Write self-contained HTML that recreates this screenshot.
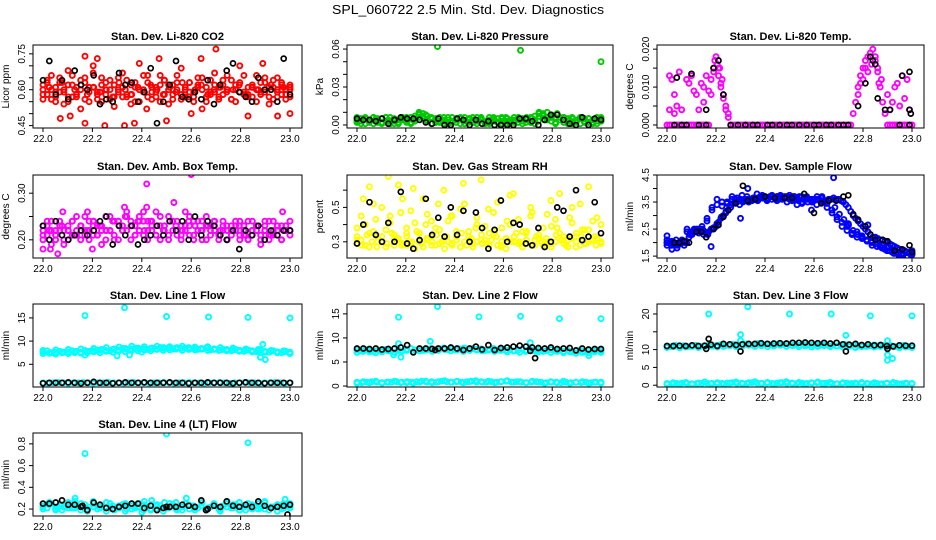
<!DOCTYPE html>
<html><head><meta charset="utf-8"><style>
html,body{margin:0;padding:0;background:#fff}
svg{display:block;font-family:"Liberation Sans",sans-serif}
</style></head><body>
<svg id="chart" width="936" height="540" viewBox="0 0 936 540" xmlns="http://www.w3.org/2000/svg">
<text x="468" y="14" text-anchor="middle" font-size="13" textLength="272" lengthAdjust="spacingAndGlyphs">SPL_060722  2.5 Min. Std. Dev. Diagnostics</text>
</svg>
<script>
// ---------- data ----------
const xTicks=[22.0,22.2,22.4,22.6,22.8,23.0];
const xTickLabels=["22.0","22.2","22.4","22.6","22.8","23.0"];
const panelTitles=["Stan. Dev. Li-820 CO2","Stan. Dev. Li-820 Pressure","Stan. Dev. Li-820 Temp.","Stan. Dev. Amb. Box Temp.","Stan. Dev. Gas Stream RH","Stan. Dev. Sample Flow","Stan. Dev. Line 1 Flow","Stan. Dev. Line 2 Flow","Stan. Dev. Line 3 Flow","Stan. Dev. Line 4 (LT) Flow"];
const yTitles=["Licor ppm","kPa","degrees C","degrees C","percent","ml/min","ml/min","ml/min","ml/min","ml/min"];
const yRanges=[[0.44,0.787],[-0.0024,0.0632],[-0.0008,0.0211],[0.161,0.339],[0.206,0.688],[1.43,4.5],[0.1,18],[-0.2,17.05],[-0.5,22.8],[0.136,0.9]];
const yTicks=[[0.45,0.5,0.55,0.6,0.65,0.7,0.75],[0,0.01,0.02,0.03,0.04,0.05,0.06],[0,0.005,0.01,0.015,0.02],[0.2,0.25,0.3],[0.3,0.4,0.5,0.6],[1.5,2,2.5,3,3.5,4,4.5],[5,10,15],[0,5,10,15],[0,5,10,15,20],[0.2,0.4,0.6,0.8]];
const yTickLabels=[["0.45","","","0.60","","","0.75"],["0.00","","","0.03","","","0.06"],["0.000","","0.010","","0.020"],["0.20","","0.30"],["0.3","","0.5",""],["1.5","","2.5","","3.5","","4.5"],["5","10","15"],["0","5","10","15"],["0","5","10","","20"],["0.2","0.4","0.6","0.8"]];
const seriesColors=["#ff0000","#00c800","#ff00ff","#ff00ff","#ffff00","#0000ff","#00ffff","#00ffff","#00ffff","#00ffff"];

const co2RedA=[0.62,0.58,0.66,0.55,0.63,0.60,0.68,0.57,0.61,0.52,0.65,0.59,0.70,0.56,0.62,0.58,0.64,0.53,0.60,0.67,0.57,0.62,0.55,0.71,0.59,0.63,0.56,0.61,0.66,0.58,0.54,0.62,0.60,0.69,0.57,0.63,0.59,0.65,0.52,0.61,0.58,0.67,0.56,0.62,0.60,0.64,0.55,0.70,0.58,0.61,0.57,0.66,0.59,0.63,0.54,0.61,0.65,0.58,0.60,0.62];
const co2RedB=[0.58,0.64,0.56,0.61,0.59,0.54,0.62,0.66,0.57,0.60,0.63,0.55,0.61,0.58,0.65,0.60,0.56,0.62,0.59,0.57,0.64,0.58,0.61,0.55,0.60,0.66,0.59,0.57,0.62,0.64,0.60,0.56,0.63,0.58,0.61,0.59,0.55,0.62,0.60,0.57,0.64,0.59,0.61,0.58,0.66,0.56,0.60,0.63,0.59,0.57,0.62,0.60,0.58,0.65,0.61,0.56,0.60,0.63,0.58,0.57];
const co2RedC=[0.60,0.61,0.59,0.63,0.57,0.60,0.62,0.58,0.61,0.59,0.60,0.57,0.63,0.60,0.58,0.61,0.59,0.62,0.60,0.58,0.61,0.59,0.63,0.57,0.60,0.62,0.58,0.60,0.61,0.59,0.60,0.62,0.58,0.61,0.60,0.59,0.62,0.57,0.61,0.60];
const co2RedD=[0.56,0.63,0.60,0.57,0.65,0.59,0.55,0.62,0.58,0.64,0.56,0.61,0.67,0.59,0.55,0.63,0.60,0.57,0.65,0.61,0.58,0.54,0.63,0.60,0.66,0.57,0.61,0.59,0.55,0.64,0.62,0.58,0.66,0.56,0.60,0.63,0.57,0.61,0.65,0.55,0.59,0.62,0.57,0.64,0.60,0.56,0.62,0.59,0.66,0.58,0.61,0.55,0.63,0.60,0.57,0.64,0.59,0.62,0.56,0.61];
const co2RedOut=[[22.07,0.48],[22.11,0.49],[22.17,0.46],[22.25,0.45],[22.33,0.45],[22.37,0.46],[22.5,0.47],[22.7,0.77],[22.64,0.73],[22.47,0.73],[22.17,0.74],[22.83,0.49],[22.95,0.49],[23.0,0.5],[22.22,0.73],[22.89,0.71],[22.6,0.5],[22.42,0.52]];
const co2Black=[0.64,0.72,0.58,0.64,0.56,0.68,0.62,0.60,0.66,0.54,0.56,0.55,0.67,0.62,0.63,0.55,0.59,0.69,0.46,0.55,0.62,0.72,0.57,0.56,0.59,0.56,0.64,0.54,0.62,0.68,0.71,0.59,0.57,0.55,0.65,0.60,0.60,0.55,0.73,0.58];

const presGreenA=[0.002,0.005,0.001,0.004,0.006,0.002,0.005,0.003,0.006,0.001,0.004,0.005,0.002,0.006,0.003,0.008,0.009,0.007,0.005,0.002,0.006,0.001,0.004,0.006,0.002,0.005,0.001,0.004,0.006,0.003,0.005,0.001,0.004,0.006,0.002,0.005,0.001,0.003,0.006,0.002,0.005,0.004,0.006,0.001,0.007,0.009,0.010,0.008,0.006,0.004,0.002,0.005,0.001,0.004,0.006,0.002,0.005,0.001,0.003,0.006];
const presGreenB=[0.004,0.001,0.006,0.003,0.001,0.005,0.002,0.006,0.001,0.004,0.002,0.006,0.004,0.001,0.007,0.010,0.007,0.004,0.001,0.005,0.002,0.006,0.001,0.003,0.005,0.001,0.006,0.002,0.004,0.001,0.006,0.003,0.001,0.005,0.002,0.006,0.003,0.001,0.004,0.006,0.001,0.005,0.002,0.004,0.009,0.008,0.006,0.003,0.001,0.006,0.004,0.001,0.006,0.003,0.001,0.005,0.002,0.004,0.001,0.005];
const presGreenC=[0.003,0.004,0.003,0.005,0.002,0.004,0.003,0.005,0.003,0.004,0.006,0.008,0.005,0.003,0.004,0.002,0.004,0.003,0.005,0.003,0.004,0.002,0.004,0.003,0.005,0.003,0.004,0.002,0.005,0.003,0.004,0.007,0.009,0.006,0.004,0.003,0.005,0.002,0.004,0.003];
const presGreenD=[0.006,0.003,0.005,0.002,0.006,0.004,0.001,0.006,0.003,0.005,0.001,0.004,0.006,0.002,0.005,0.009,0.006,0.003,0.006,0.002,0.005,0.003,0.006,0.002,0.004,0.006,0.003,0.005,0.002,0.006,0.004,0.002,0.006,0.003,0.005,0.001,0.006,0.004,0.002,0.005,0.003,0.006,0.002,0.007,0.010,0.007,0.004,0.006,0.002,0.004,0.006,0.003,0.005,0.002,0.006,0.003,0.005,0.002,0.006,0.003];
const presGreenOut=[[22.33,0.062],[22.67,0.059],[23.0,0.05]];
const presBlack=[0.005,0.004,0.004,0.003,0.005,0.001,0.004,0.006,0.005,0.005,0.004,0.002,0.001,0.005,0.000,0.000,0.005,0.004,0.000,0.004,0.001,0.003,0.000,0.000,0.000,0.000,0.005,0.005,0.003,0.000,0.004,0.008,0.008,0.004,0.001,0.000,0.006,0.000,0.005,0.004];

const tempMagenta=[0,0,0,0,0,0,0,0,0,0,0,0,0,0,0,0,0,0,0.008,0.015,0.018,0.015,0.011,0.007,0.004,0.002,0,0,0,0,0,0,0,0,0,0,0,0,0,0,0,0,0,0,0,0,0,0,0,0,0,0,0,0,0,0,0,0,0,0,0,0,0,0,0,0,0,0,0,0,0,0,0,0,0,0,0.003,0.006,0.010,0.013,0.015,0.017,0.018,0.019,0.020,0.017,0.014,0.010,0.006,0.003,0,0,0,0,0,0,0,0,0,0,0];
const tempMagentaOut=[[22.01,0.013],[22.01,0.004],[22.02,0.012],[22.03,0.008],[22.03,0.003],[22.04,0.005],[22.05,0.014],[22.06,0.004],[22.08,0.012],[22.09,0.011],[22.10,0.013],[22.11,0.009],[22.12,0.008],[22.13,0.004],[22.14,0.011],[22.15,0.006],[22.15,0.010],[22.16,0.013],[22.17,0.009],[22.18,0.012],[22.19,0.014],[22.195,0.017],[22.205,0.016],[22.21,0.013],[22.22,0.010],[22.23,0.008],[22.24,0.005],[22.25,0.003],[22.9,0.008],[22.91,0.004],[22.92,0.006],[22.93,0.010],[22.94,0.011],[22.95,0.005],[22.96,0.013],[22.97,0.007],[22.98,0.012],[22.99,0.004],[22.86,0.015],[22.82,0.014],[22.79,0.011],[22.78,0.008],[22.835,0.016],[22.875,0.012],[22.215,0.015],[22.225,0.012],[22.8,0.012],[22.81,0.015],[22.85,0.018],[22.865,0.011]];
const tempBlack=[[22.1,0.0135],[22.04,0.0125],[22.16,0.004],[22.19,0.015],[22.21,0.017],[22.23,0.008],[22.78,0.005],[22.81,0.011],[22.83,0.018],[22.84,0.017],[22.85,0.016],[22.86,0.007],[22.89,0.004],[22.91,0.004],[22.96,0.013],[22.99,0.014],[22.99,0.004],[22.995,0.003],[22.03,0],[22.06,0],[22.08,0],[22.13,0],[22.16,0],[22.26,0],[22.29,0],[22.32,0],[22.35,0],[22.37,0],[22.41,0],[22.43,0],[22.46,0],[22.49,0],[22.51,0],[22.54,0],[22.57,0],[22.6,0],[22.62,0],[22.65,0],[22.67,0],[22.7,0],[22.72,0],[22.74,0],[22.95,0],[22.99,0]];

const ambMagentaA=[0.23,0.21,0.24,0.20,0.22,0.19,0.23,0.21,0.25,0.20,0.22,0.24,0.21,0.23,0.19,0.22,0.25,0.21,0.24,0.22,0.26,0.20,0.23,0.25,0.21,0.24,0.22,0.26,0.20,0.23,0.25,0.22,0.24,0.21,0.26,0.23,0.20,0.24,0.22,0.25,0.21,0.23,0.20,0.24,0.22,0.21,0.23,0.20,0.22,0.24,0.21,0.23,0.19,0.22,0.24,0.21,0.23,0.20,0.22,0.24];
const ambMagentaB=[0.21,0.23,0.19,0.22,0.24,0.22,0.20,0.24,0.22,0.23,0.21,0.20,0.23,0.21,0.22,0.20,0.22,0.24,0.20,0.23,0.22,0.24,0.21,0.22,0.24,0.20,0.23,0.21,0.23,0.22,0.20,0.24,0.21,0.23,0.22,0.25,0.21,0.22,0.24,0.20,0.23,0.22,0.21,0.23,0.20,0.23,0.22,0.24,0.21,0.20,0.22,0.23,0.21,0.24,0.20,0.22,0.21,0.23,0.22,0.21];
const ambMagentaC=[0.22,0.22,0.21,0.23,0.22,0.21,0.23,0.22,0.24,0.23,0.22,0.24,0.23,0.25,0.23,0.24,0.22,0.24,0.23,0.22,0.24,0.23,0.22,0.24,0.23,0.22,0.23,0.24,0.22,0.23,0.22,0.23,0.21,0.22,0.23,0.22,0.21,0.23,0.22,0.22];
const ambMagentaD=[0.20,0.24,0.22,0.21,0.23,0.20,0.22,0.24,0.21,0.23,0.25,0.22,0.24,0.21,0.23,0.25,0.22,0.20,0.24,0.22,0.25,0.23,0.21,0.24,0.26,0.22,0.24,0.21,0.25,0.23,0.21,0.24,0.22,0.20,0.23,0.21,0.24,0.22,0.20,0.23,0.22,0.24,0.21,0.22,0.20,0.22,0.24,0.21,0.23,0.20,0.24,0.22,0.20,0.23,0.21,0.24,0.22,0.20,0.23,0.22];
const ambMagentaOut=[[22.42,0.32],[22.6,0.34],[22.0,0.18],[22.03,0.18],[22.06,0.17],[22.2,0.18],[22.33,0.27],[22.42,0.27],[22.53,0.28],[22.97,0.26],[22.18,0.26],[22.08,0.26]];
const ambBlack=[0.23,0.20,0.24,0.21,0.20,0.21,0.22,0.21,0.22,0.24,0.25,0.19,0.23,0.21,0.23,0.19,0.20,0.21,0.23,0.21,0.24,0.22,0.24,0.20,0.25,0.21,0.24,0.23,0.21,0.20,0.22,0.18,0.22,0.21,0.23,0.20,0.22,0.21,0.22,0.22];

const rhYellowA=[0.33,0.45,0.28,0.62,0.36,0.30,0.50,0.27,0.41,0.34,0.63,0.29,0.38,0.48,0.26,0.35,0.55,0.31,0.42,0.28,0.37,0.60,0.30,0.45,0.33,0.27,0.52,0.36,0.29,0.40,0.66,0.31,0.35,0.47,0.28,0.38,0.32,0.57,0.30,0.43,0.27,0.36,0.50,0.31,0.34,0.28,0.46,0.39,0.30,0.58,0.33,0.27,0.41,0.35,0.52,0.29,0.37,0.31,0.44,0.30];
const rhYellowB=[0.29,0.31,0.40,0.27,0.52,0.33,0.30,0.37,0.45,0.28,0.32,0.55,0.35,0.29,0.41,0.30,0.27,0.46,0.33,0.38,0.29,0.31,0.42,0.28,0.36,0.49,0.30,0.33,0.27,0.44,0.31,0.39,0.28,0.34,0.53,0.30,0.26,0.40,0.33,0.29,0.36,0.31,0.45,0.28,0.32,0.38,0.30,0.27,0.43,0.35,0.29,0.31,0.50,0.33,0.28,0.37,0.30,0.42,0.32,0.29];
const rhYellowC=[0.38,0.55,0.35,0.43,0.30,0.68,0.32,0.47,0.28,0.61,0.35,0.40,0.30,0.52,0.26,0.45,0.34,0.64,0.31,0.38,0.29,0.49,0.36,0.27,0.42,0.58,0.30,0.35,0.47,0.32,0.29,0.54,0.38,0.31,0.44,0.27,0.37,0.62,0.33,0.40];
const rhYellowD=[0.31,0.28,0.34,0.30,0.27,0.33,0.29,0.35,0.31,0.28,0.33,0.30,0.36,0.29,0.32,0.28,0.34,0.30,0.33,0.29,0.31,0.35,0.28,0.32,0.30,0.34,0.29,0.31,0.33,0.28,0.32,0.30,0.35,0.29,0.31,0.28,0.33,0.30,0.32,0.29,0.34,0.31,0.28,0.32,0.30,0.33,0.29,0.31,0.28,0.30];
const rhBlack=[0.29,0.40,0.53,0.34,0.30,0.41,0.30,0.59,0.29,0.26,0.31,0.55,0.34,0.44,0.33,0.50,0.34,0.48,0.30,0.47,0.38,0.26,0.37,0.54,0.30,0.41,0.40,0.29,0.28,0.38,0.27,0.30,0.50,0.48,0.33,0.60,0.31,0.33,0.53,0.35];

const flowBlueA=[2.1,2.0,1.95,2.0,1.95,2.0,2.0,1.9,2.0,2.2,2.4,2.45,2.4,2.45,2.4,2.3,2.35,2.4,2.5,2.55,2.6,2.75,2.9,3.0,3.1,3.2,3.3,3.45,3.5,3.55,3.6,3.5,3.55,3.6,3.55,3.6,3.65,3.6,3.7,3.65,3.7,3.65,3.7,3.7,3.65,3.7,3.7,3.65,3.7,3.7,3.75,3.7,3.7,3.65,3.7,3.7,3.65,3.7,3.6,3.6,3.55,3.6,3.6,3.55,3.5,3.55,3.6,3.6,3.65,3.6,3.6,3.55,3.5,3.4,3.3,3.15,3.0,2.9,2.8,2.7,2.6,2.5,2.4,2.3,2.2,2.2,2.15,2.1,2.1,2.05,2.0,1.95,1.9,1.85,1.8,1.75,1.7,1.7,1.65,1.6,1.6];
const flowBlueB=[2.0,2.05,1.8,2.1,2.5,2.3,2.45,2.6,2.9,3.3,3.6,3.35,3.5,3.7,3.5,3.75,3.6,3.55,3.8,3.7,3.6,3.75,3.55,3.7,3.65,3.6,3.4,3.5,3.65,3.55,3.7,3.7,3.45,3.2,2.95,2.75,2.6,2.35,2.4,2.25,2.1,2.0,1.95,1.9,1.8,1.7,1.65,1.55,1.5,1.7];
const flowBlueC=[1.9,2.0,1.9,2.05,2.4,2.35,2.5,2.5,2.8,3.2,3.4,3.5,3.45,3.6,3.65,3.55,3.7,3.6,3.6,3.65,3.55,3.6,3.7,3.6,3.5,3.55,3.6,3.45,3.6,3.5,3.6,3.5,3.3,3.1,2.85,2.6,2.45,2.3,2.2,2.15,2.05,1.9,1.85,1.8,1.7,1.65,1.6,1.5,1.45,1.6];
const flowBlueD=[2.0,1.9,2.1,1.95,2.0,2.3,2.5,2.35,2.45,2.3,2.5,2.7,2.95,3.15,3.4,3.6,3.4,3.6,3.5,3.65,3.55,3.75,3.6,3.7,3.6,3.75,3.65,3.6,3.7,3.55,3.6,3.5,3.6,3.4,3.65,3.55,3.6,3.3,3.05,2.85,2.65,2.45,2.3,2.2,2.1,2.05,1.95,1.85,1.75,1.7,1.6,1.55,1.6,1.5,1.55];
const flowBlueOut=[[22.68,4.4],[22.33,4.0],[22.18,1.85],[22.3,2.9],[22.74,2.7],[22.82,2.65],[22.59,3.2],[22.0,2.25],[22.02,1.75]];
const flowBlack=[[22.03,2.0],[22.05,2.0],[22.07,2.05],[22.09,2.0],[22.12,2.4],[22.14,2.4],[22.16,2.2],[22.19,2.5],[22.21,2.65],[22.23,2.95],[22.25,3.2],[22.28,3.45],[22.31,4.1],[22.33,3.55],[22.36,3.6],[22.4,3.7],[22.44,3.65],[22.48,3.65],[22.51,3.65],[22.56,3.8],[22.6,3.1],[22.63,3.45],[22.66,3.55],[22.69,3.55],[22.72,3.7],[22.74,3.75],[22.76,3.05],[22.78,2.85],[22.81,2.6],[22.83,2.3],[22.85,2.1],[22.88,2.1],[22.9,2.05],[22.93,1.7],[22.96,1.75],[22.99,1.9],[23.0,1.65]];

const line1CyanA=[7.7,7.9,7.5,7.6,7.8,7.6,7.7,7.9,7.8,7.6,8.0,7.8,7.9,8.1,8.2,8.0,7.9,8.3,8.1,8.4,8.2,8.3,8.5,8.3,8.4,8.2,8.5,8.3,8.6,8.4,8.5,8.3,8.6,8.4,8.5,8.3,8.4,8.2,8.3,8.5,8.1,8.3,8.0,8.2,8.1,7.9,8.2,8.0,7.8,8.1,7.9,7.7,8.0,7.8,7.6,7.9,7.7,7.5,7.8,7.6];
const line1CyanB=[7.3,7.4,7.2,7.5,7.3,7.6,7.4,7.5,7.7,7.5,7.8,7.6,7.9,7.7,8.0,7.9,8.1,7.9,8.2,8.0,8.1,8.3,8.0,8.2,8.1,8.3,8.0,8.2,8.1,7.9,8.1,7.8,8.0,7.7,7.9,7.6,7.8,7.5,7.7,7.4];
const line1CyanC=[8.0,7.4,8.1,7.6,8.2,7.5,8.3,7.8,8.4,8.0,8.6,8.2,8.7,8.4,8.9,8.5,8.8,8.4,8.9,8.6,8.8,8.5,8.9,8.6,8.7,8.4,8.8,8.3,8.6,8.2,8.5,8.0,8.3,7.9,8.2,7.7,8.0,7.5,7.9,7.3];
const line1CyanLow=[1.0,0.9,1.0,1.1,1.0,0.9,1.0,1.0,1.1,1.0,0.9,1.0,1.0,1.1,1.0,1.0,0.9,1.0,1.1,1.0,1.0,0.9,1.0,1.0,1.1,1.0,0.9,1.0,1.0,1.1,1.0,1.0,0.9,1.0,1.0,1.1,1.0,0.9,1.0,1.0,1.1,1.0,1.0,0.9,1.0,1.0,1.1,1.0,0.9,1.0];
const line1CyanOut=[[22.17,15.5],[22.33,17.2],[22.5,15.3],[22.67,15.2],[22.83,15.1],[23.0,15.0],[22.3,6.8],[22.35,7.0],[22.17,7.0],[22.89,9.3],[22.9,6.0],[22.88,6.5],[22.4,7.6]];
const line1Black=[0.9,1.0,1.0,1.0,1.1,1.0,0.9,1.0,1.2,1.0,1.0,0.9,1.0,1.1,1.0,1.0,1.1,1.0,1.0,1.0,1.1,1.0,1.0,0.9,1.0,1.0,1.1,1.0,1.0,1.0,0.9,1.0,1.1,1.0,1.0,0.9,1.0,1.0,1.0,1.0];

const line2CyanA=[7.5,7.3,7.6,7.4,7.2,7.5,7.3,7.6,7.4,7.7,7.5,7.3,7.6,7.8,7.5,7.7,7.4,7.6,7.8,7.5,7.7,7.9,7.6,7.8,7.5,7.7,7.9,7.6,7.8,7.5,7.7,7.4,7.6,7.8,7.5,7.7,7.4,7.6,7.3,7.5,7.7,7.4,7.6,7.3,7.5,7.2,7.4,7.6,7.3,7.5,7.2,7.4,7.1,7.3,7.5,7.2,7.4,7.3,7.5,7.4];
const line2CyanB=[7.0,7.2,7.1,6.9,7.1,7.3,7.0,7.2,7.4,7.1,7.3,7.5,7.2,7.4,7.6,7.3,7.5,7.2,7.4,7.6,7.3,7.5,7.2,7.4,7.1,7.3,7.0,7.2,7.4,7.1,7.3,7.0,7.2,6.9,7.1,6.8,7.0,6.9,7.1,7.0];
const line2CyanLow=[0.8,0.7,0.8,0.9,0.8,0.7,0.8,0.8,0.9,0.8,0.7,0.8,0.9,1.0,0.8,0.9,0.8,1.0,0.9,0.8,0.9,0.8,0.9,1.0,0.8,0.9,0.8,0.9,0.8,0.9,1.0,0.8,0.9,0.8,0.7,0.8,0.9,0.8,0.7,0.8,0.8,0.7,0.8,0.7,0.8,0.7,0.8,0.7,0.8,0.8];
const line2CyanLowB=[0.6,0.9,0.7,1.0,0.6,0.8,1.0,0.7,0.9,0.6,0.8,1.0,0.7,0.9,1.1,0.8,1.0,0.7,0.9,1.1,0.8,1.0,0.7,0.9,1.1,0.8,0.9,0.7,1.0,0.8,0.6,0.9,0.7,1.0,0.6,0.8,0.9,0.6,0.8,0.6];
const line2CyanOut=[[22.17,14.3],[22.33,16.5],[22.5,14.4],[22.67,14.5],[22.83,14.0],[23.0,14.0],[22.3,9.3],[22.18,6.0],[22.15,6.5],[22.71,9.0],[22.95,6.3],[22.17,8.8]];
const line2Black=[7.8,7.8,7.7,7.8,7.6,7.7,7.8,8.0,8.5,7.0,7.8,7.8,7.7,7.8,7.8,8.0,7.8,7.5,7.8,8.2,7.6,8.5,7.5,7.9,8.0,8.2,8.4,8.2,8.0,7.9,7.8,8.0,7.7,7.8,7.9,7.4,7.8,7.6,7.7,7.7];
const line2BlackOut=[[22.73,5.8],[22.71,7.3],[22.32,7.5]];

const line3CyanA=[11.0,10.8,11.2,10.9,11.1,10.8,11.0,11.2,10.9,11.1,11.3,11.0,11.2,11.4,11.1,11.3,11.5,11.2,11.4,11.6,11.3,11.5,11.7,11.4,11.6,11.3,11.5,11.7,11.4,11.6,11.3,11.5,11.2,11.4,11.6,11.3,11.5,11.2,11.4,11.1,11.3,11.0,11.2,11.4,11.1,11.3,11.0,11.2,10.9,11.1,11.3,11.0,11.2,10.9,11.1,10.8,11.0,11.2,10.9,11.1];
const line3CyanB=[10.6,10.8,10.5,10.7,10.9,10.6,10.8,11.0,10.7,10.9,11.1,10.8,11.0,11.2,10.9,11.1,10.8,11.0,11.2,10.9,11.1,10.8,11.0,10.7,10.9,11.1,10.8,11.0,10.7,10.9,10.6,10.8,11.0,10.7,10.9,10.6,10.8,10.5,10.7,10.6];
const line3CyanLow=[0.5,0.4,0.5,0.6,0.5,0.4,0.5,0.5,0.6,0.5,0.4,0.5,0.6,0.7,0.5,0.6,0.5,0.7,0.6,0.5,0.6,0.5,0.6,0.7,0.5,0.6,0.5,0.6,0.5,0.6,0.7,0.5,0.6,0.5,0.4,0.5,0.6,0.5,0.4,0.5,0.5,0.4,0.5,0.4,0.5,0.4,0.5,0.4,0.5,0.5];
const line3CyanLowB=[0.3,0.7,0.4,0.8,0.3,0.6,0.9,0.4,0.7,0.3,0.6,0.9,0.4,0.7,1.0,0.5,0.8,0.4,0.7,1.0,0.5,0.8,0.4,0.7,0.9,0.5,0.8,0.4,0.7,0.3,0.6,0.8,0.4,0.7,0.3,0.6,0.8,0.3,0.6,0.4];
const line3CyanOut=[[22.17,20],[22.33,22],[22.5,20],[22.67,20],[22.83,19.5],[23.0,19.5],[22.3,14.2],[22.73,14],[22.9,7],[22.92,7.5],[22.9,8.5],[22.9,12.5],[22.3,12.5]];
const line3Black=[11.0,11.0,11.1,11.0,11.2,11.0,11.1,11.4,11.0,11.6,11.5,11.3,11.5,11.6,11.6,11.8,11.6,11.7,11.8,11.7,11.9,11.9,12.0,11.9,11.8,11.9,11.7,11.9,11.5,11.4,11.6,11.3,11.5,11.2,11.3,11.0,10.9,11.2,11.1,11.1];
const line3BlackOut=[[22.3,9.5],[22.73,9.5],[22.17,13],[22.16,10.2],[22.9,10.2]];

const line4CyanA=[0.23,0.21,0.25,0.20,0.24,0.22,0.26,0.21,0.23,0.19,0.24,0.22,0.27,0.20,0.23,0.21,0.25,0.19,0.22,0.24,0.20,0.23,0.21,0.25,0.19,0.22,0.24,0.20,0.23,0.26,0.21,0.24,0.19,0.22,0.25,0.20,0.23,0.21,0.26,0.19,0.22,0.24,0.20,0.23,0.27,0.21,0.24,0.19,0.22,0.25,0.20,0.23,0.21,0.26,0.19,0.22,0.24,0.20,0.23,0.25];
const line4CyanB=[0.20,0.24,0.22,0.19,0.23,0.21,0.25,0.20,0.22,0.24,0.18,0.23,0.21,0.25,0.20,0.22,0.24,0.19,0.23,0.21,0.25,0.20,0.22,0.24,0.19,0.23,0.21,0.25,0.20,0.22,0.24,0.19,0.23,0.21,0.25,0.20,0.22,0.24,0.21,0.23];
const line4CyanC=[0.22,0.26,0.19,0.24,0.21,0.27,0.22,0.18,0.25,0.21,0.26,0.20,0.23,0.18,0.25,0.22,0.27,0.20,0.24,0.18,0.22,0.26,0.19,0.24,0.21,0.27,0.20,0.23,0.18,0.25,0.21,0.26,0.19,0.24,0.20,0.27,0.22,0.18,0.25,0.21];
const line4CyanOut=[[22.17,0.71],[22.5,0.89],[22.83,0.81],[22.13,0.3],[22.44,0.28],[22.58,0.3],[22.98,0.29],[22.4,0.17]];
const line4Black=[0.25,0.25,0.26,0.28,0.24,0.24,0.22,0.19,0.26,0.24,0.21,0.20,0.22,0.23,0.25,0.25,0.21,0.23,0.19,0.21,0.22,0.22,0.24,0.23,0.22,0.28,0.20,0.23,0.22,0.27,0.23,0.22,0.24,0.22,0.27,0.23,0.21,0.22,0.23,0.24];
const line4BlackOut=[[22.99,0.15],[22.16,0.23],[22.66,0.19],[22.5,0.22]];

const panelSeries=[
 [[co2RedA,'c'],[co2RedB,'c'],[co2RedC,'c'],[co2RedD,'c'],[co2RedOut,'c'],[co2Black,'k']],
 [[presGreenA,'c'],[presGreenB,'c'],[presGreenC,'c'],[presGreenD,'c'],[presGreenOut,'c'],[presBlack,'k']],
 [[tempMagenta,'c'],[tempMagentaOut,'c'],[tempBlack,'k']],
 [[ambMagentaA,'c'],[ambMagentaB,'c'],[ambMagentaC,'c'],[ambMagentaD,'c'],[ambMagentaOut,'c'],[ambBlack,'k']],
 [[rhYellowA,'c'],[rhYellowB,'c'],[rhYellowC,'c'],[rhYellowD,'c'],[rhBlack,'k']],
 [[flowBlueA,'c'],[flowBlueB,'c'],[flowBlueC,'c'],[flowBlueD,'c'],[flowBlueOut,'c'],[flowBlack,'k']],
 [[line1CyanA,'c'],[line1CyanB,'c'],[line1CyanC,'c'],[line1CyanLow,'c'],[line1CyanOut,'c'],[line1Black,'k']],
 [[line2CyanA,'c'],[line2CyanB,'c'],[line2CyanLow,'c'],[line2CyanLowB,'c'],[line2CyanOut,'c'],[line2Black,'k'],[line2BlackOut,'k']],
 [[line3CyanA,'c'],[line3CyanB,'c'],[line3CyanLow,'c'],[line3CyanLowB,'c'],[line3CyanOut,'c'],[line3Black,'k'],[line3BlackOut,'k']],
 [[line4CyanA,'c'],[line4CyanB,'c'],[line4CyanC,'c'],[line4CyanOut,'c'],[line4Black,'k'],[line4BlackOut,'k']]
];

// ---------- layout ----------
const NS="http://www.w3.org/2000/svg";
const svg=document.getElementById('chart');
const colBox=[[33,302],[347,613],[657,924]];
const rowTop=[45,175,304,433];
const boxH=83;
function mk(tag,attrs,parent){const e=document.createElementNS(NS,tag);for(const k in attrs)e.setAttribute(k,attrs[k]);(parent||svg).appendChild(e);return e;}

panelTitles.forEach((title,p)=>{
  const [l,r]=colBox[p%3];const top=rowTop[Math.floor(p/3)];const bot=top+boxH;
  const [y0,y1]=yRanges[p];
  const xs=v=>(l+10)+(v-22)*((r-12)-(l+10));
  const ys=v=>bot-(v-y0)/(y1-y0)*boxH;
  const g=mk('g',{});
  
  
  const clip=mk('clipPath',{id:'cl'+p},g);mk('rect',{x:l,y:top,width:r-l,height:boxH},clip);
  const pts=mk('g',{'clip-path':'url(#cl'+p+')'},g);
  
  
  panelSeries[p].forEach(([data,kind])=>{
    const col=kind==='k'?'#000':seriesColors[p];
    const isPts=Array.isArray(data[0]);
    data.forEach((d,i)=>{
      const xv=isPts?d[0]:22+i/(data.length-1);
      const yv=isPts?d[1]:d;
      const c=mk('circle',{cx:xs(xv).toFixed(1),cy:ys(yv).toFixed(1),r:2.5,fill:'none',stroke:col,'stroke-width':kind==='k'?1.7:1.9},pts);
      
      
    });
  });
  const box=mk('rect',{x:l,y:top,width:r-l,height:boxH,fill:'none',stroke:'#000','stroke-width':1},g);
  
  
  const t=mk('text',{x:(l+r)/2,y:top-5,'text-anchor':'middle','font-size':11,'font-weight':'bold'},g);
  t.textContent=title;
  
  
  mk('line',{x1:xs(xTicks[0]),x2:xs(xTicks[xTicks.length-1]),y1:bot,y2:bot,stroke:'#000'},g);
  xTicks.forEach((v,i)=>{
    mk('line',{x1:xs(v),x2:xs(v),y1:bot,y2:bot+4,stroke:'#000'},g);
    const tl=mk('text',{x:xs(v),y:bot+14,'text-anchor':'middle','font-size':10},g);
    tl.textContent=xTickLabels[i];
    
    
  });
  yTicks[p].forEach((v,i)=>{
    mk('line',{x1:l-4,x2:l,y1:ys(v),y2:ys(v),stroke:'#000'},g);
    if(yTickLabels[p][i]){
      const yl=mk('text',{x:l-8,y:ys(v),'text-anchor':'middle','font-size':10,transform:`rotate(-90 ${l-8} ${ys(v)})`},g);
      yl.textContent=yTickLabels[p][i];
      
      
    }
  });
  const yt=mk('text',{x:l-24,y:top+boxH/2,'text-anchor':'middle','font-size':10,transform:`rotate(-90 ${l-24} ${top+boxH/2})`},g);
  yt.textContent=yTitles[p];
  
  
});
</script>
</body></html>
